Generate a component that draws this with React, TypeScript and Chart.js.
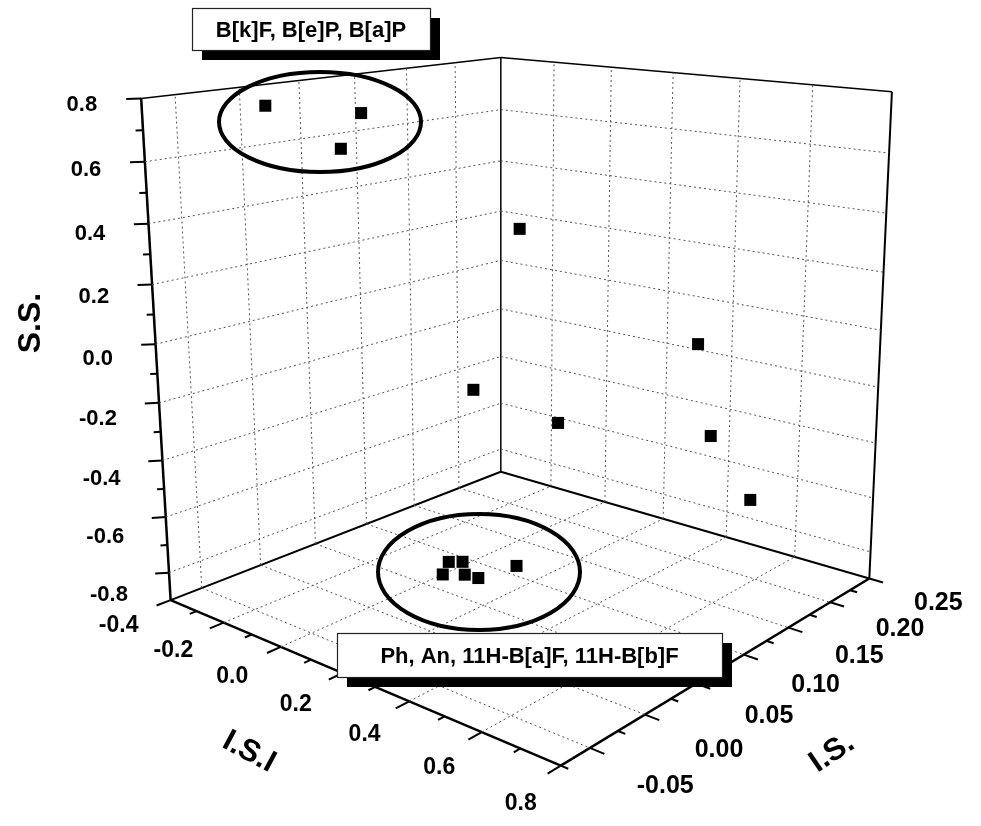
import React, { useEffect, useRef } from 'react';
import { Chart, registerables } from 'chart.js';
Chart.register(...registerables);

const W = 981, H = 826;

// Axis ranges
const ISI_MIN = -0.4, ISI_MAX = 0.8;   // I.S.I
const IS_MIN = -0.075, IS_MAX = 0.25;  // I.S.
const SS_MIN = -0.9, SS_MAX = 0.8;     // S.S.

// Tick values and labels
const isiTicks = [-0.4, -0.2, 0.0, 0.2, 0.4, 0.6, 0.8];
const isiTickLabels = ['-0.4', '-0.2', '0.0', '0.2', '0.4', '0.6', '0.8'];
const isTicks = [-0.05, 0.0, 0.05, 0.1, 0.15, 0.2, 0.25];
const isTickLabels = ['-0.05', '0.00', '0.05', '0.10', '0.15', '0.20', '0.25'];
const ssTicks = [-0.8, -0.6, -0.4, -0.2, 0.0, 0.2, 0.4, 0.6, 0.8];
const ssTickLabels = ['-0.8', '-0.6', '-0.4', '-0.2', '0.0', '0.2', '0.4', '0.6', '0.8'];

// Data points (I.S.I, I.S., S.S.)
const pointISI = [-0.176, 0.000, 0.006, 0.402, -0.065, 0.108, 0.527, 0.529, 0.612, 0.096, 0.121, 0.114, 0.155, 0.182, 0.258];
const pointIS = [-0.030, 0.004, -0.015, 0.023, 0.121, 0.157, 0.157, 0.173, 0.186, 0.048, 0.054, 0.037, 0.046, 0.051, 0.065];
const pointSS = [0.78, 0.76, 0.66, 0.45, -0.30, -0.42, -0.02, -0.36, -0.58, -0.78, -0.78, -0.80, -0.80, -0.81, -0.76];

// Group annotations
const groupTop = 'B[k]F, B[e]P, B[a]P';
const groupBottom = 'Ph, An, 11H-B[a]F, 11H-B[b]F';

// 3D view: screen positions of the box corners (index: I.S.I, I.S., S.S. at min=0 / max=1)
const CORNER: Record<string, number[]> = {
  '000': [165, 604], '001': [135, 92], '010': [501, 473], '011': [501, 50],
  '100': [562, 773], '101': [564, 146], '110': [876, 582], '111': [899, 85],
};
const RHO = [1.27, 0.8, 1.08];
const persp = (t: number, r: number) => t / (t + r * (1 - t));
const fu = (a: number) => persp((a - ISI_MIN) / (ISI_MAX - ISI_MIN), RHO[0]);
const fv = (b: number) => persp((b - IS_MIN) / (IS_MAX - IS_MIN), RHO[1]);
const fw = (c: number) => persp((c - SS_MIN) / (SS_MAX - SS_MIN), RHO[2]);

function project(a: number, b: number, c: number): number[] {
  const u = fu(a), v = fv(b), w = fw(c);
  let x = 0, y = 0;
  for (const i of [0, 1]) for (const j of [0, 1]) for (const k of [0, 1]) {
    const wt = (i ? u : 1 - u) * (j ? v : 1 - v) * (k ? w : 1 - w);
    const p = CORNER[`${i}${j}${k}`];
    x += wt * p[0]; y += wt * p[1];
  }
  return [x, y];
}

const FONT = '"Liberation Sans", Arial, sans-serif';

function seg(p: number[], q: number[], color: string, width: number, dash: number[] = []) {
  return {
    data: [{ x: p[0], y: p[1] }, { x: q[0], y: q[1] }],
    showLine: true, borderColor: color, borderWidth: width, borderDash: dash,
    pointRadius: 0, pointHoverRadius: 0, fill: false, order: 2, clip: false,
  };
}

function buildDatasets() {
  const ds: any[] = [];
  const G = '#555', D = [2, 3];
  const inner = (arr: number[], lo: number, hi: number) => arr.filter(v => v > lo + 1e-9 && v < hi - 1e-9);
  // left wall (I.S.I = min)
  inner(isTicks, IS_MIN, IS_MAX).forEach(b =>
    ds.push(seg(project(ISI_MIN, b, SS_MIN), project(ISI_MIN, b, SS_MAX), G, 1, D)));
  inner(ssTicks, SS_MIN, SS_MAX).forEach(c =>
    ds.push(seg(project(ISI_MIN, IS_MIN, c), project(ISI_MIN, IS_MAX, c), G, 1, D)));
  // right wall (I.S. = max)
  inner(isiTicks, ISI_MIN, ISI_MAX).forEach(a =>
    ds.push(seg(project(a, IS_MAX, SS_MIN), project(a, IS_MAX, SS_MAX), G, 1, D)));
  inner(ssTicks, SS_MIN, SS_MAX).forEach(c =>
    ds.push(seg(project(ISI_MIN, IS_MAX, c), project(ISI_MAX, IS_MAX, c), G, 1, D)));
  // floor (S.S. = min)
  inner(isiTicks, ISI_MIN, ISI_MAX).forEach(a =>
    ds.push(seg(project(a, IS_MIN, SS_MIN), project(a, IS_MAX, SS_MIN), G, 1, D)));
  inner(isTicks, IS_MIN, IS_MAX).forEach(b =>
    ds.push(seg(project(ISI_MIN, b, SS_MIN), project(ISI_MAX, b, SS_MIN), G, 1, D)));
  // frame
  const K = '#000';
  ds.push(seg(project(ISI_MIN, IS_MIN, SS_MIN), project(ISI_MIN, IS_MIN, SS_MAX), K, 2.5));
  ds.push(seg(project(ISI_MIN, IS_MIN, SS_MAX), project(ISI_MIN, IS_MAX, SS_MAX), K, 1.5));
  ds.push(seg(project(ISI_MIN, IS_MAX, SS_MAX), project(ISI_MAX, IS_MAX, SS_MAX), K, 1.5));
  ds.push(seg(project(ISI_MIN, IS_MAX, SS_MIN), project(ISI_MIN, IS_MAX, SS_MAX), K, 1.5));
  ds.push(seg(project(ISI_MAX, IS_MAX, SS_MIN), project(ISI_MAX, IS_MAX, SS_MAX), K, 2));
  ds.push(seg(project(ISI_MIN, IS_MIN, SS_MIN), project(ISI_MIN, IS_MAX, SS_MIN), K, 2));
  ds.push(seg(project(ISI_MIN, IS_MAX, SS_MIN), project(ISI_MAX, IS_MAX, SS_MIN), K, 2));
  ds.push(seg(project(ISI_MIN, IS_MIN, SS_MIN), project(ISI_MAX, IS_MIN, SS_MIN), K, 2.5));
  ds.push(seg(project(ISI_MAX, IS_MIN, SS_MIN), project(ISI_MAX, IS_MAX, SS_MIN), K, 2.5));
  // S.S. ticks (every 0.1)
  for (let i = -8; i <= 8; i++) {
    const c = i / 10, f = i % 2 === 0 ? 1 : 0.5;
    ds.push(seg(project(ISI_MIN, IS_MIN, c), project(ISI_MIN - 0.021 * f, IS_MIN - 0.0066 * f, c), K, 2));
  }
  // I.S.I ticks (every 0.1)
  for (let i = -4; i <= 8; i++) {
    const a = i / 10;
    ds.push(seg(project(a, IS_MIN, SS_MIN), project(a, IS_MIN - (i % 2 === 0 ? 0.011 : 0.0055), SS_MIN), K, 2));
  }
  // I.S. ticks (every 0.025)
  for (let i = -3; i <= 10; i++) {
    const b = i / 40;
    ds.push(seg(project(ISI_MAX, b, SS_MIN), project(ISI_MAX + (i % 2 === 0 ? 0.035 : 0.018), b, SS_MIN), K, 2));
  }
  return ds;
}

const overlay = {
  id: 'overlay',
  afterDatasetsDraw(chart: any) {
    const ctx = chart.ctx;
    const xs = chart.scales.x, ys = chart.scales.y;
    const P = (p: number[]) => [xs.getPixelForValue(p[0]), ys.getPixelForValue(p[1])];
    ctx.save();
    ctx.fillStyle = '#000';
    // S.S. tick labels
    ctx.font = `bold 22px ${FONT}`;
    ctx.textAlign = 'right'; ctx.textBaseline = 'middle';
    ssTicks.forEach((c, i) => {
      const p = P(project(ISI_MIN, IS_MIN, c));
      const w = fw(c);
      ctx.fillText(ssTickLabels[i], p[0] - 44 + 3 * (1 - w), p[1] + 23 - 17 * w);
    });
    // I.S.I tick labels
    ctx.font = `bold 23px ${FONT}`;
    ctx.textAlign = 'center';
    isiTicks.forEach((a, i) => {
      const p = P(project(a, IS_MIN, SS_MIN));
      const u = fu(a);
      ctx.fillText(isiTickLabels[i], p[0] - 52 + 12 * u, p[1] + 26 + 12 * u);
    });
    // I.S. tick labels
    ctx.font = `bold 25px ${FONT}`;
    isTicks.forEach((b, i) => {
      const p = P(project(ISI_MAX, b, SS_MIN));
      const v = fv(b);
      ctx.fillText(isTickLabels[i], p[0] + 76 - 7 * v, p[1] + 39 - 14 * v);
    });
    // axis titles
    const title = (t: string, x: number, y: number, ang: number, size: number) => {
      ctx.save(); ctx.translate(x, y); ctx.rotate(ang * Math.PI / 180);
      ctx.font = `bold ${size}px ${FONT}`;
      ctx.fillText(t, 0, 0); ctx.restore();
    };
    title('S.S.', 31, 323, -90, 32);
    title('I.S.I', 249, 752, 28, 31);
    title('I.S.', 832, 753, -34, 31);
    // group ellipses
    ctx.lineWidth = 4; ctx.strokeStyle = '#000';
    ctx.beginPath(); ctx.ellipse(320, 122, 101, 50, 0, 0, Math.PI * 2); ctx.stroke();
    ctx.beginPath(); ctx.ellipse(479, 572, 101, 58, 0, 0, Math.PI * 2); ctx.stroke();
    // group labels (boxes with shadow)
    const box = (x0: number, y0: number, x1: number, y1: number, t: string) => {
      ctx.fillStyle = '#000';
      ctx.fillRect(x0 + 10, y0 + 10, x1 - x0, y1 - y0);
      ctx.fillStyle = '#fff';
      ctx.fillRect(x0, y0, x1 - x0, y1 - y0);
      ctx.lineWidth = 1.2; ctx.strokeStyle = '#222';
      ctx.strokeRect(x0 + 0.5, y0 + 0.5, x1 - x0, y1 - y0);
      ctx.fillStyle = '#000';
      ctx.font = `bold 22px ${FONT}`;
      ctx.textAlign = 'center'; ctx.textBaseline = 'middle';
      ctx.fillText(t, (x0 + x1) / 2, (y0 + y1) / 2 + 2);
    };
    box(192, 8, 430, 50, groupTop);
    box(337, 633, 722, 677, groupBottom);
    ctx.restore();
  },
};

export default function App() {
  const ref = useRef<HTMLCanvasElement>(null);
  useEffect(() => {
    document.body.style.margin = '0';
    const pts = pointISI.map((a, i) => {
      const p = project(a, pointIS[i], pointSS[i]);
      return { x: p[0], y: p[1] };
    });
    const chart = new Chart(ref.current!, {
      type: 'scatter',
      data: {
        datasets: [
          { data: pts, pointStyle: 'rect', pointRadius: 8.5, pointHoverRadius: 8.5, backgroundColor: '#000', borderColor: '#000', borderWidth: 0, order: 0, clip: false } as any,
          ...buildDatasets(),
        ],
      },
      options: {
        responsive: false, animation: false,
        layout: { padding: 0 },
        plugins: { legend: { display: false }, tooltip: { enabled: false } },
        events: [],
        scales: {
          x: { type: 'linear', min: 0, max: W, display: false },
          y: { type: 'linear', min: 0, max: H, reverse: true, display: false },
        },
      },
      plugins: [overlay],
    });
    return () => chart.destroy();
  }, []);
  return (
    <div style={{ width: W, height: H, background: '#fff' }}>
      <canvas ref={ref} width={W} height={H} style={{ display: 'block' }} />
    </div>
  );
}
